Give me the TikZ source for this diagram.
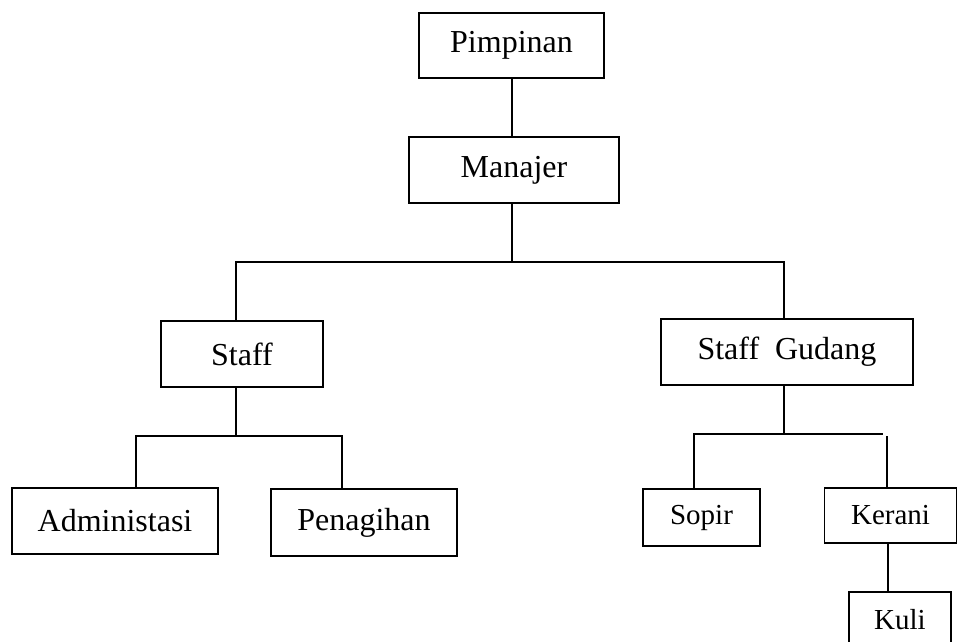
\documentclass[tikz,border=0pt]{standalone}
\usepackage{fontspec}
\setmainfont{Liberation Serif}
\usepackage{tikz}
\usetikzlibrary{positioning}

\begin{document}
\begin{tikzpicture}[
    x=1pt, y=-1pt,
    unit/.style={draw, line width=1.2pt, inner sep=0pt, align=center,
                 font=\fontsize{32}{38}\selectfont},
    unitsm/.style={unit, font=\fontsize{29}{34}\selectfont},
    link/.style={line width=1.2pt}
]
\useasboundingbox (0,0) rectangle (957,641);

\node[unit, minimum width=185pt, minimum height=65pt] (pimp) at (511.5,45.5) {Pimpinan};
\node[unit, minimum width=210pt, minimum height=66pt] (man) at (514,170) {Manajer};
\node[unit, minimum width=162pt, minimum height=66pt] (staff) at (242,354) {Staff};
\node[unit, minimum width=252pt, minimum height=66pt] (gud) at (787,352) {Staff\ \ Gudang};
\node[unit, minimum width=206pt, minimum height=66pt] (adm) at (115,521) {Administasi};
\node[unit, minimum width=186pt, minimum height=67pt] (pen) at (364,522.5) {Penagihan};
\node[unitsm, minimum width=117pt, minimum height=57pt] (sop) at (701.5,517.5) {Sopir};
\node[unitsm, minimum width=132pt, minimum height=55pt] (ker) at (890.5,515.5) {Kerani};
\node[unitsm, minimum width=102pt, minimum height=56pt] (kuli) at (900,620) {Kuli};

% junctions
\coordinate (jm) at (512,262);
\coordinate (jl) at (236,262);
\coordinate (jr) at (784,262);
\coordinate (sm) at (236,436);
\coordinate (sl) at (136,436);
\coordinate (sr) at (342,436);
\coordinate (gm) at (784,434);
\coordinate (gl) at (694,434);
\coordinate (gr) at (883,434);
\coordinate (gk) at (887,436);

\draw[link] (pimp.south -| jm) -- (man.north -| jm);
\draw[link] (man.south -| jm) -- (jm);
\draw[link] (staff.north -| jl) -- (jl) -- (jr) -- (gud.north -| jr);

\draw[link] (staff.south -| sm) -- (sm);
\draw[link] (adm.north -| sl) -- (sl) -- (sr) -- (pen.north -| sr);

\draw[link] (gud.south -| gm) -- (gm);
\draw[link] (sop.north -| gl) -- (gl) -- (gr);
\draw[link] (gk) -- (ker.north -| gk);
\draw[link] (ker.south -| 888,0) -- (kuli.north -| 888,0);
\end{tikzpicture}
\end{document}
